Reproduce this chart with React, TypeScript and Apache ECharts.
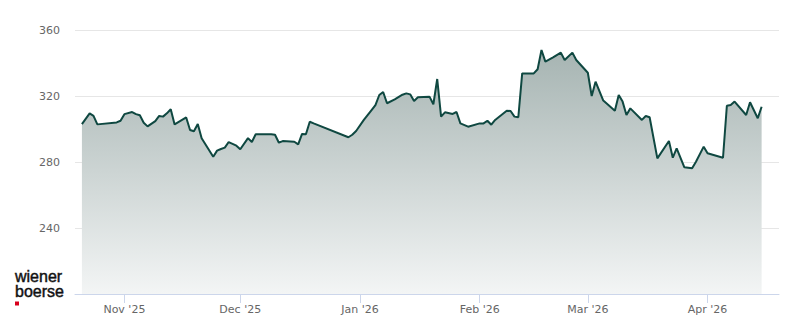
import React, { useEffect, useRef } from 'react';
import * as echarts from 'echarts';

const dates: string[] = [
  '2025-10-21','2025-10-23','2025-10-24','2025-10-25','2025-10-30','2025-10-31','2025-11-01','2025-11-03','2025-11-04','2025-11-05',
  '2025-11-06','2025-11-07','2025-11-09','2025-11-10','2025-11-11','2025-11-12','2025-11-13','2025-11-14','2025-11-17','2025-11-18',
  '2025-11-19','2025-11-20','2025-11-21','2025-11-24','2025-11-25','2025-11-26','2025-11-27','2025-11-28','2025-11-30','2025-12-01',
  '2025-12-03','2025-12-04','2025-12-05','2025-12-09','2025-12-10','2025-12-11','2025-12-12','2025-12-15','2025-12-16','2025-12-17',
  '2025-12-18','2025-12-19','2025-12-20','2025-12-29','2025-12-30','2025-12-31','2026-01-02','2026-01-04','2026-01-05','2026-01-06',
  '2026-01-07','2026-01-08','2026-01-10','2026-01-12','2026-01-13','2026-01-14','2026-01-15','2026-01-16','2026-01-19','2026-01-20',
  '2026-01-21','2026-01-22','2026-01-23','2026-01-25','2026-01-26','2026-01-27','2026-01-29','2026-02-01','2026-02-02','2026-02-03',
  '2026-02-04','2026-02-05','2026-02-08','2026-02-09','2026-02-10','2026-02-11','2026-02-12','2026-02-15','2026-02-16','2026-02-17',
  '2026-02-18','2026-02-20','2026-02-22','2026-02-23','2026-02-25','2026-02-26','2026-03-01','2026-03-02','2026-03-03','2026-03-05',
  '2026-03-08','2026-03-09','2026-03-10','2026-03-11','2026-03-12','2026-03-15','2026-03-16','2026-03-17','2026-03-19','2026-03-22',
  '2026-03-23','2026-03-24','2026-03-26','2026-03-28','2026-03-29','2026-03-31','2026-04-01','2026-04-05','2026-04-06','2026-04-07',
  '2026-04-08','2026-04-11','2026-04-12','2026-04-14','2026-04-15'
];

const prices: number[] = [
  303, 309.5, 308, 302.8, 304, 305, 309, 310.3, 309, 308.3,
  303.8, 301.6, 304.8, 307.9, 307.5, 309.5, 312, 302.8, 307, 299.4,
  298.6, 303, 294.4, 283.2, 286.9, 287.9, 288.7, 292.1, 289.9, 287.7,
  294.5, 292.1, 296.8, 296.8, 296.5, 291.7, 292.7, 292.3, 290.7, 297,
  296.8, 304.4, 303.4, 295, 296.5, 298.8, 305.5, 311.5, 314.5, 320.6,
  322.4, 315.6, 318, 320.8, 321.6, 321, 317, 319.2, 319.6, 315,
  330.3, 307.5, 310.1, 309.1, 310.3, 303.4, 301.4, 303.4, 303.4, 305,
  302.6, 305.5, 311.1, 310.9, 307.5, 307.1, 333.7, 333.7, 336.2, 347.9,
  340.8, 343.4, 346.3, 341.8, 346.3, 341.8, 334.1, 320, 328.7, 317.2,
  311.1, 320.6, 316.6, 308.5, 312.5, 305.5, 307.9, 307.1, 282.2, 292.7,
  282.6, 288.3, 276.8, 276.2, 280.2, 289.3, 285.3, 282.6, 314.1, 314.5,
  316.6, 308.5, 316.2, 306.5, 313.5
];

const monthTicks: string[] = ['2025-11-01', '2025-12-01', '2026-01-01', '2026-02-01', '2026-03-01', '2026-04-01'];
const monthLabels: string[] = ["Nov '25", "Dec '25", "Jan '26", "Feb '26", "Mar '26", "Apr '26"];

const yMin = 200;
const yMax = 360;
const yStep = 40;

export default function App() {
  const ref = useRef<HTMLDivElement>(null);

  useEffect(() => {
    if (!ref.current) return;
    const chart = echarts.init(ref.current, null, { renderer: 'svg' });
    const tickMs = monthTicks.map((d) => Date.parse(d));
    const font = "'DejaVu Sans', sans-serif";
    const logoFont = "'Liberation Sans', Arial, sans-serif";
    chart.setOption({
      animation: false,
      grid: { left: 75, right: 21, top: 30, bottom: 30 },
      xAxis: {
        type: 'value',
        min: Date.UTC(2025, 9, 19, 5),
        max: Date.UTC(2026, 3, 19, 12),
        axisLine: { show: true, lineStyle: { color: '#ccd6eb', width: 1 } },
        axisTick: { show: true, length: 9, customValues: tickMs, lineStyle: { color: '#ccd6eb' } },
        axisLabel: {
          customValues: tickMs,
          formatter: (v: number) => {
            const i = tickMs.indexOf(v);
            return i >= 0 ? monthLabels[i] : '';
          },
          color: '#666666',
          fontSize: 11,
          fontFamily: font,
          margin: 10,
        },
        splitLine: { show: false },
      },
      yAxis: {
        type: 'value',
        min: yMin,
        max: yMax,
        interval: yStep,
        axisLine: { show: false },
        axisTick: { show: false },
        axisLabel: { showMinLabel: false, color: '#666666', fontSize: 11, fontFamily: font, margin: 15 },
        splitLine: { lineStyle: { color: '#e6e6e6', width: 1 } },
      },
      series: [
        {
          type: 'line',
          data: dates.map((d, i) => [Date.parse(d), prices[i]]),
          symbol: 'none',
          showSymbol: false,
          lineStyle: { color: '#0f4841', width: 2 },
          itemStyle: { color: '#0f4841' },
          areaStyle: {
            color: new echarts.graphic.LinearGradient(0, 0, 0, 1, [
              { offset: 0, color: '#a6b4b2' },
              { offset: 1, color: '#f3f5f5' },
            ]),
            opacity: 1,
          },
          emphasis: { disabled: true },
        },
      ],
      graphic: [
        {
          type: 'text',
          x: 15,
          y: 269.1,
          style: {
            text: 'wiener\nboerse', fontSize: 16, lineHeight: 14.9, fontFamily: logoFont,
            fill: '#111111', stroke: '#111111', lineWidth: 0.45, verticalAlign: 'top', align: 'left',
          },
        },
        {
          type: 'rect',
          shape: { x: 15, y: 301.5, width: 4, height: 4 },
          style: { fill: '#d8001c' },
        },
      ],
    });
    return () => chart.dispose();
  }, []);

  return <div ref={ref} style={{ position: 'absolute', left: 0, top: 0, width: 800, height: 324 }} />;
}
